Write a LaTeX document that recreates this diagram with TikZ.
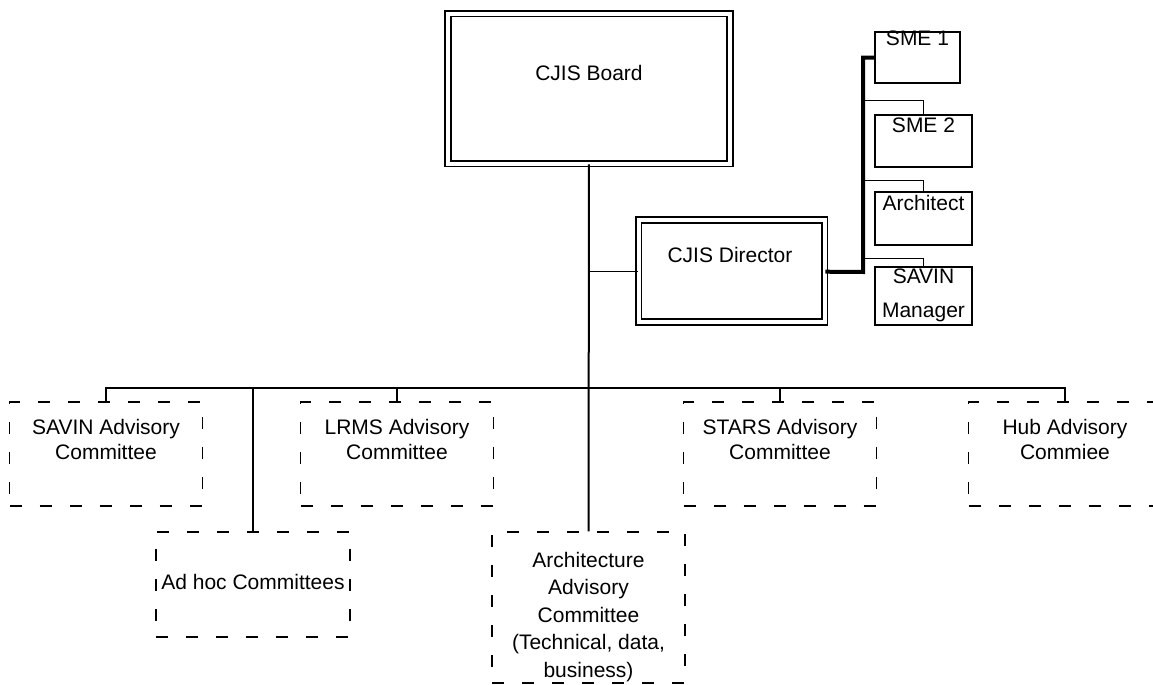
\documentclass[tikz,border=0pt]{standalone}
\usepackage{fontspec}
\setmainfont{Liberation Sans}
\usepackage{tikz}
\tikzstyle{board} = [rectangle, draw, double, double distance=2pt, line width=0.8pt, inner sep=0pt]
\tikzstyle{sme} = [rectangle, draw, line width=0.7pt, inner sep=0pt, minimum width=48.5pt]
\tikzstyle{cttee} = [rectangle, draw, line width=0.6pt, dash pattern=on 6pt off 9pt, inner sep=0pt, minimum width=96.5pt, minimum height=52pt]
\tikzstyle{txt} = [align=center, inner sep=0pt, font=\fontsize{10.5}{12.5}\selectfont]
\tikzstyle{line} = [draw, line width=1pt]
\tikzstyle{heavy} = [draw, line width=2pt]
\tikzstyle{feed} = [draw, line width=0.5pt]

\begin{document}
\begin{tikzpicture}[x=0.5pt, y=-0.5pt]
        \useasboundingbox (0, 0) rectangle (1153, 685);
        % Place nodes
        \node at (589, 88.5) [board, minimum width=141pt, minimum height=75pt] (board) {};
        \node at (589, 73) [txt] (boardtxt) {CJIS Board};
        \node at (731.5, 271) [board, minimum width=93pt, minimum height=51pt] (dir) {};
        \node at (730, 255) [txt] (dirtxt) {CJIS Director};
        \node at (917.5, 57.5) [sme, minimum width=42.5pt, minimum height=25.5pt] (sme1) {};
        \node at (917.5, 38) [txt] (sme1txt) {SME 1};
        \node at (923.5, 141) [sme, minimum height=26pt] (sme2) {};
        \node at (923.5, 125) [txt] (sme2txt) {SME 2};
        \node at (923.5, 218.5) [sme, minimum height=26.5pt] (archt) {};
        \node at (923.5, 203) [txt] (archttxt) {Architect};
        \node at (923.5, 296) [sme, minimum height=29pt] (mgr) {};
        \node at (923.5, 295) [txt, font=\fontsize{10.5}{17}\selectfont] (mgrtxt) {SAVIN\\Manager};
        \node at (106, 454) [cttee] (savin) {};
        \node at (106, 439) [txt] (savintxt) {SAVIN Advisory\\Committee};
        \node at (397, 454) [cttee] (lrms) {};
        \node at (397, 439) [txt] (lrmstxt) {LRMS Advisory\\Committee};
        \node at (780, 454) [cttee] (stars) {};
        \node at (780, 439) [txt] (starstxt) {STARS Advisory\\Committee};
        \node at (1065, 454) [cttee] (hub) {};
        \node at (1065, 439) [txt] (hubtxt) {Hub Advisory\\Commiee};
        \node at (253, 584.5) [cttee, minimum width=97pt, minimum height=52.5pt] (adhoc) {};
        \node at (253, 582) [txt] (adhoctxt) {Ad hoc Committees};
        \node at (588.5, 607.5) [cttee, minimum height=75.5pt] (archc) {};
        \node at (588.5, 617) [txt, font=\fontsize{10.5}{13.75}\selectfont] (archctxt) {Architecture\\Advisory\\Committee\\(Technical, data,\\business)};
        \coordinate (bus) at (588, 388);
        \coordinate (rail) at (863, 272);
        \coordinate (tap2) at (863, 100);
        \coordinate (tap3) at (863, 180);
        \coordinate (tap4) at (863, 258);

        % Draw edges
        \path [line] (board) -- (archc);
        \path [line] (savin) |- (bus) -| (hub);
        \path [line] (lrms) -- (lrms |- bus);
        \path [line] (stars) -- (stars |- bus);
        \path [line] (adhoc) -- (adhoc |- bus);
        \path [feed] (dir) -- (dir -| board);
        \path [heavy] (dir) -- (rail) |- (sme1);
        \path [feed] (tap2) -| (sme2);
        \path [feed] (tap3) -| (archt);
        \path [feed] (tap4) -| (mgr);
    \end{tikzpicture}
\end{document}
